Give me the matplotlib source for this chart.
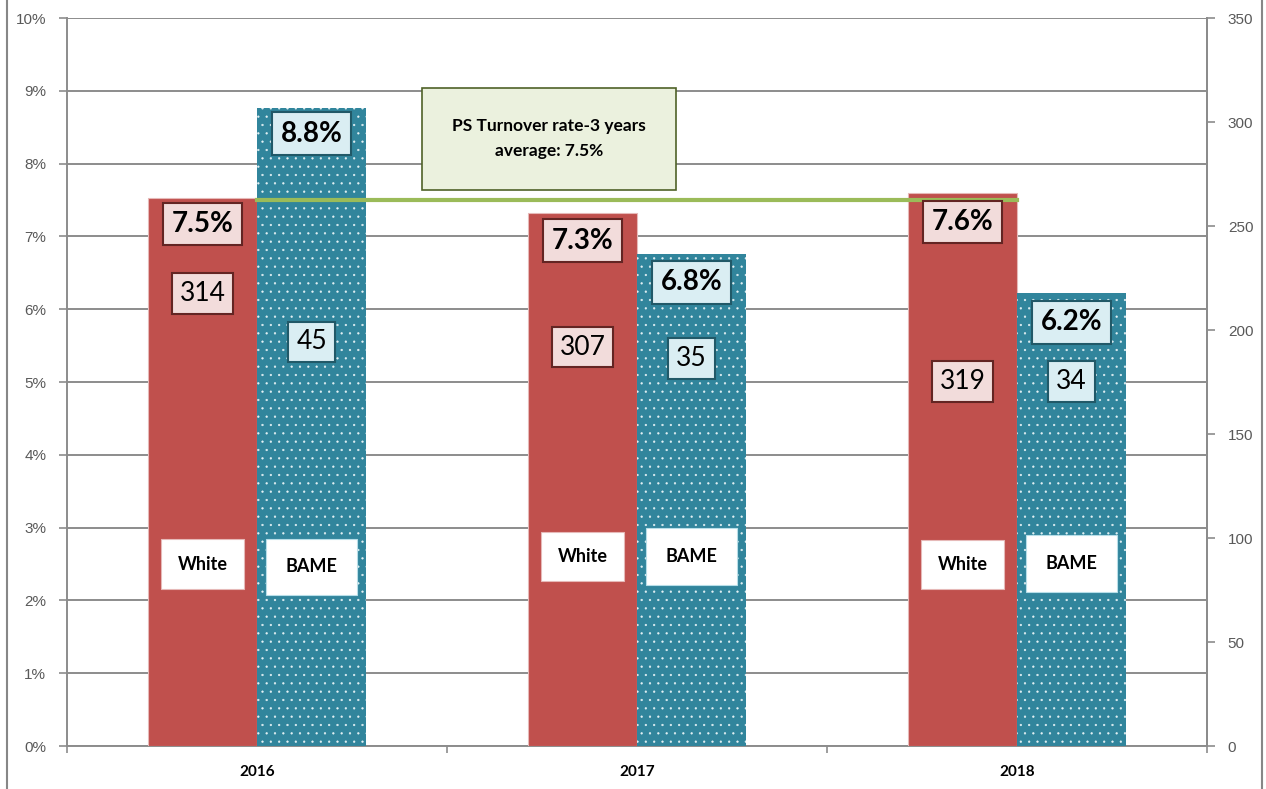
import matplotlib
matplotlib.use("Agg")
import matplotlib.pyplot as plt
import numpy as np
from matplotlib.ticker import PercentFormatter, MultipleLocator
from matplotlib.lines import Line2D

# ---------------- data ----------------
years = ["2016", "2017", "2018"]
white_rate = [7.53, 7.32, 7.60]      # %
bame_rate = [8.76, 6.76, 6.22]       # %
white_rate_labels = ["7.5%", "7.3%", "7.6%"]
bame_rate_labels = ["8.8%", "6.8%", "6.2%"]
white_count = [314, 307, 319]
bame_count = [45, 35, 34]
average_rate = 7.5
average_text = "PS Turnover rate-3 years\naverage: 7.5%"
series_names = ["White", "BAME"]
right_ticks = [0, 50, 100, 150, 200, 250, 300, 350]

# label placements (style, in left-axis % units)
white_rate_y = [7.17, 6.94, 7.20]
bame_rate_y = [8.41, 6.37, 5.82]
white_count_y = [6.22, 5.48, 5.01]
bame_count_y = [5.55, 5.32, 5.01]
white_name_y = [2.50, 2.60, 2.49]
bame_name_y = [2.46, 2.60, 2.51]

# ---------------- style ----------------
RED = "#C0504D"
TEAL = "#31859C"
GRID = "#8C8C8C"
TICKC = "#595959"
plt.rcParams["font.family"] = ["Lato", "DejaVu Sans"]
plt.rcParams["hatch.linewidth"] = 0.4

fig = plt.figure(figsize=(12.66, 7.89), dpi=100)
ax = fig.add_axes([67/1266, 1-746/789, (1207-67)/1266, (746-18)/789])

x = np.arange(len(years))
w = 0.287
ax.bar(x - w/2, white_rate, width=w, color=RED, edgecolor="#E6B9B8", linewidth=0.8, zorder=3)
ax.bar(x + w/2, bame_rate, width=w, color=TEAL, edgecolor="#E4F1F4", linewidth=0, hatch="..", zorder=3)

ax.set_xlim(-0.5, len(years) - 0.5)
ax.set_ylim(0, 10)
ax.yaxis.set_major_locator(MultipleLocator(1))
ax.yaxis.set_major_formatter(PercentFormatter(decimals=0))
ax.grid(axis="y", color=GRID, linewidth=1.4, zorder=0)
ax.set_axisbelow(True)

# x ticks at category boundaries, labels at centres
ax.set_xticks(np.arange(-0.5, len(years)), minor=False)
ax.set_xticklabels([])
ax.set_xticks(x, minor=True)
ax.set_xticklabels(years, minor=True, fontsize=11, fontweight="bold", color="black")
ax.tick_params(axis="x", which="minor", length=0, pad=14)
ax.tick_params(axis="x", which="major", length=5, color=GRID, width=1.2, direction="out")
ax.tick_params(axis="y", length=6, color=GRID, width=1.2, labelsize=11, labelcolor=TICKC, pad=9)
for lab in ax.get_yticklabels():
    lab.set_family(["Liberation Sans", "DejaVu Sans"])

ax.spines["top"].set_visible(False)
for s in ["left", "bottom", "right"]:
    ax.spines[s].set_color(GRID)
    ax.spines[s].set_linewidth(1.4)

# secondary axis
ax2 = ax.twinx()
ax2.set_ylim(0, 350)
ax2.set_yticks(right_ticks)
ax2.tick_params(axis="y", length=6, color=GRID, width=1.2, labelsize=11, labelcolor=TICKC, pad=9)
for lab in ax2.get_yticklabels():
    lab.set_family(["Liberation Sans", "DejaVu Sans"])
for s in ["top", "left", "bottom"]:
    ax2.spines[s].set_visible(False)
ax2.spines["right"].set_color(GRID)
ax2.spines["right"].set_linewidth(1.4)

# average line
ax.plot([x[0], x[-1]], [average_rate, average_rate], color="#9BBB59", linewidth=3, zorder=5)

# average text box
ax.text(0.768, 8.34, average_text, ha="center", va="center", fontsize=12.5, fontweight="bold",
        color="black", linespacing=1.7, zorder=6,
        bbox=dict(boxstyle="square,pad=1.75", facecolor="#EBF1DE", edgecolor="#4F6228", linewidth=1.2))

red_box = dict(boxstyle="square,pad=0.3", facecolor="#F2DCDB", edgecolor="#632523", linewidth=1.5)
teal_box = dict(boxstyle="square,pad=0.3", facecolor="#DAEEF3", edgecolor="#215968", linewidth=1.5)

for i in range(len(years)):
    xw = x[i] - w/2
    xb = x[i] + w/2
    ax.text(xw, white_rate_y[i], white_rate_labels[i], ha="center", va="center", fontsize=20,
            fontweight="bold", color="black", bbox=red_box, zorder=7)
    ax.text(xb, bame_rate_y[i], bame_rate_labels[i], ha="center", va="center", fontsize=20,
            fontweight="bold", color="black", bbox=teal_box, zorder=7)
    ax.text(xw, white_count_y[i], str(white_count[i]), ha="center", va="center", fontsize=19,
            color="black", bbox=dict(red_box, boxstyle="square,pad=0.3"), zorder=7)
    ax.text(xb, bame_count_y[i], str(bame_count[i]), ha="center", va="center", fontsize=19,
            color="black", bbox=dict(teal_box, boxstyle="square,pad=0.3"), zorder=7)
    ax.text(xw, white_name_y[i], series_names[0], ha="center", va="center", fontsize=13,
            fontweight="bold", color="black", zorder=7,
            bbox=dict(boxstyle="square,pad=0.9", facecolor="white", edgecolor="#E6B9B8", linewidth=0.8))
    ax.text(xb, bame_name_y[i], series_names[1], ha="center", va="center", fontsize=13,
            fontweight="bold", color="black", zorder=7,
            bbox=dict(boxstyle="square,pad=1.1", facecolor="white", edgecolor="#B7DEE8", linewidth=0.8))

# outer frame lines of the chart area
fig.add_artist(Line2D([7/1266, 7/1266], [0, 1], transform=fig.transFigure, color="#878787", linewidth=1.5))
fig.add_artist(Line2D([1262/1266, 1262/1266], [0, 1], transform=fig.transFigure, color="#878787", linewidth=1.5))

fig.savefig("out.png", dpi=100)
